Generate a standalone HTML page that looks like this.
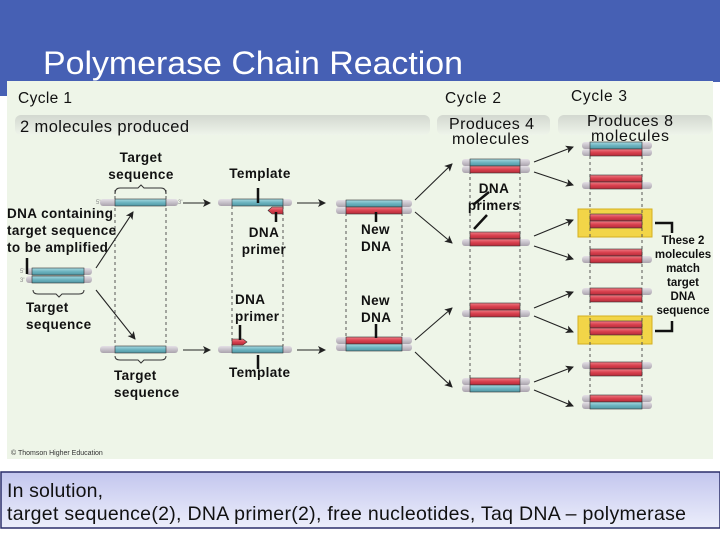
<!DOCTYPE html>
<html><head><meta charset="utf-8"><style>
body{margin:0;width:720px;height:540px;overflow:hidden;background:#fff;font-family:"Liberation Sans",Arial,sans-serif}
</style></head><body>
<svg width="720" height="540" viewBox="0 0 720 540" xmlns="http://www.w3.org/2000/svg" font-family="Liberation Sans, Arial, sans-serif">
<defs>
<linearGradient id="b" x1="0" y1="0" x2="0" y2="1"><stop offset="0" stop-color="#a9dbe2"/><stop offset="0.5" stop-color="#6db4c0"/><stop offset="1" stop-color="#4f97a4"/></linearGradient>
<linearGradient id="r" x1="0" y1="0" x2="0" y2="1"><stop offset="0" stop-color="#f07d86"/><stop offset="0.5" stop-color="#d8404e"/><stop offset="1" stop-color="#b52a38"/></linearGradient>
<linearGradient id="g" x1="0" y1="0" x2="0" y2="1"><stop offset="0" stop-color="#e4e0e6"/><stop offset="1" stop-color="#aaa3ad"/></linearGradient>
<linearGradient id="bar" x1="0" y1="0" x2="0" y2="1"><stop offset="0" stop-color="#d3d8d0"/><stop offset="1" stop-color="#eef4ea"/></linearGradient>
<linearGradient id="bot" x1="0" y1="0" x2="0" y2="1"><stop offset="0" stop-color="#c3c6ee"/><stop offset="1" stop-color="#eceefb"/></linearGradient>
<marker id="a" markerWidth="8" markerHeight="8" refX="7" refY="4" orient="auto" markerUnits="userSpaceOnUse"><path d="M0,0 L8,4 L0,8 L2,4z" fill="#222"/></marker>
</defs>
<rect width="720" height="82" fill="#4660b4"/>
<rect x="0" y="82" width="7" height="14" fill="#4660b4"/>
<text x="43" y="74" font-size="32" fill="#fff" textLength="420" lengthAdjust="spacingAndGlyphs">Polymerase Chain Reaction</text>
<rect x="7" y="81" width="706" height="378" fill="#eef5e8"/>
<rect x="15" y="115" width="415" height="20" rx="6" fill="url(#bar)"/>
<rect x="437" y="115" width="113" height="20" rx="6" fill="url(#bar)"/>
<rect x="558" y="115" width="154" height="20" rx="6" fill="url(#bar)"/>
<g font-size="15.5" fill="#111">
<text x="18" y="103" textLength="54">Cycle 1</text><text x="445" y="103" textLength="56">Cycle 2</text><text x="571" y="101" textLength="56">Cycle 3</text>
<text x="20" y="132" font-size="16.5" textLength="169">2 molecules produced</text>
<text x="449" y="129" font-size="16" textLength="85">Produces 4</text><text x="452" y="144" font-size="16" textLength="77">molecules</text>
<text x="587" y="126" font-size="16" textLength="86">Produces 8</text><text x="591" y="141" font-size="16" textLength="78">molecules</text>
</g>
<rect x="578" y="209" width="74" height="28" fill="#f2d548" stroke="#d4b020"/>
<rect x="578" y="316" width="74" height="28" fill="#f2d548" stroke="#d4b020"/>
<g stroke="#555" stroke-dasharray="3,3" stroke-width="1">
<path d="M115 190V350M166 190V350M232 206V346M283 206V346M346 213V337M402 213V337M470 171V385M520 171V385M590 150V400M642 150V400"/>
</g>
<g fill="url(#g)">
<rect x="26" y="268" width="66" height="7" rx="3"/><rect x="26" y="276" width="66" height="7" rx="3"/>
<rect x="100" y="199" width="78" height="7" rx="3"/><rect x="100" y="346" width="78" height="7" rx="3"/>
<rect x="218" y="199" width="74" height="7" rx="3"/><rect x="218" y="346" width="74" height="7" rx="3"/>
<rect x="336" y="200" width="76" height="7" rx="3"/><rect x="336" y="207" width="76" height="7" rx="3"/>
<rect x="336" y="337" width="76" height="7" rx="3"/><rect x="336" y="344" width="76" height="7" rx="3"/>
<rect x="462" y="159" width="68" height="7" rx="3"/><rect x="462" y="166" width="68" height="7" rx="3"/>
<rect x="462" y="239" width="68" height="7" rx="3"/><rect x="462" y="310" width="68" height="7" rx="3"/>
<rect x="462" y="378" width="68" height="7" rx="3"/><rect x="462" y="385" width="68" height="7" rx="3"/>
<rect x="582" y="142" width="70" height="7" rx="3"/><rect x="582" y="149" width="70" height="7" rx="3"/>
<rect x="582" y="182" width="70" height="7" rx="3"/><rect x="582" y="256" width="70" height="7" rx="3"/>
<rect x="582" y="288" width="70" height="7" rx="3"/><rect x="582" y="362" width="70" height="7" rx="3"/>
<rect x="582" y="395" width="70" height="7" rx="3"/><rect x="582" y="402" width="70" height="7" rx="3"/>
</g>
<g stroke="#333" stroke-width="0.6">
<rect x="32" y="268" width="52" height="7" fill="url(#b)"/><rect x="32" y="276" width="52" height="7" fill="url(#b)"/>
<rect x="115" y="199" width="51" height="7" fill="url(#b)"/><rect x="115" y="346" width="51" height="7" fill="url(#b)"/>
<rect x="232" y="199" width="51" height="7" fill="url(#b)"/><rect x="232" y="346" width="51" height="7" fill="url(#b)"/>
<path d="M283 207H272L268 210.5L272 214H283z" fill="url(#r)"/>
<path d="M232 339H243L247 342L243 345H232z" fill="url(#r)"/>
<rect x="346" y="200" width="56" height="7" fill="url(#b)"/><rect x="346" y="207" width="56" height="7" fill="url(#r)"/>
<rect x="346" y="337" width="56" height="7" fill="url(#r)"/><rect x="346" y="344" width="56" height="7" fill="url(#b)"/>
<rect x="470" y="159" width="50" height="7" fill="url(#b)"/><rect x="470" y="166" width="50" height="7" fill="url(#r)"/>
<rect x="470" y="232" width="50" height="7" fill="url(#r)"/><rect x="470" y="239" width="50" height="7" fill="url(#r)"/>
<rect x="470" y="303" width="50" height="7" fill="url(#r)"/><rect x="470" y="310" width="50" height="7" fill="url(#r)"/>
<rect x="470" y="378" width="50" height="7" fill="url(#r)"/><rect x="470" y="385" width="50" height="7" fill="url(#b)"/>
<rect x="590" y="142" width="52" height="7" fill="url(#b)"/><rect x="590" y="149" width="52" height="7" fill="url(#r)"/>
<rect x="590" y="175" width="52" height="7" fill="url(#r)"/><rect x="590" y="182" width="52" height="7" fill="url(#r)"/>
<rect x="590" y="214" width="52" height="7" fill="url(#r)"/><rect x="590" y="221" width="52" height="7" fill="url(#r)"/>
<rect x="590" y="249" width="52" height="7" fill="url(#r)"/><rect x="590" y="256" width="52" height="7" fill="url(#r)"/>
<rect x="590" y="288" width="52" height="7" fill="url(#r)"/><rect x="590" y="295" width="52" height="7" fill="url(#r)"/>
<rect x="590" y="321" width="52" height="7" fill="url(#r)"/><rect x="590" y="328" width="52" height="7" fill="url(#r)"/>
<rect x="590" y="362" width="52" height="7" fill="url(#r)"/><rect x="590" y="369" width="52" height="7" fill="url(#r)"/>
<rect x="590" y="395" width="52" height="7" fill="url(#r)"/><rect x="590" y="402" width="52" height="7" fill="url(#b)"/>
</g>
<g stroke="#222" stroke-width="1.1" fill="none" marker-end="url(#a)">
<path d="M96 268L133 212"/><path d="M96 290L135 339"/>
<path d="M183 203H210"/><path d="M183 350H210"/>
<path d="M297 203H325"/><path d="M297 350H325"/>
<path d="M415 200L452 164"/><path d="M415 212L452 243"/>
<path d="M415 340L452 308"/><path d="M415 352L452 387"/>
<path d="M534 162L573 147"/><path d="M534 172L573 185"/>
<path d="M534 236L573 220"/><path d="M534 246L573 259"/>
<path d="M534 308L573 292"/><path d="M534 316L573 332"/>
<path d="M534 382L573 367"/><path d="M534 390L573 406"/>
</g>
<g stroke="#111" stroke-width="2.5" fill="none">
<path d="M27 258V274M258 188V203M276 212V222M240 325V340M258 355V369M376 212V222M376 324V338"/>
<path d="M489 192L473 205M487 215L474 229"/>
<path d="M655 223H672V233M655 331H672V321"/>
</g>
<g stroke="#333" stroke-width="1" fill="none">
<path d="M115 194Q115 188 120 188H138L141 185L144 188H161Q166 188 166 194"/>
<path d="M33 290Q33 294 38 294H56L59 297L62 294H79Q84 294 84 290"/>
<path d="M115 356Q115 360 120 360H138L141 363L144 360H161Q166 360 166 356"/>
</g>
<g font-size="13.5" font-weight="bold" fill="#111" letter-spacing="0.4">
<text x="141" y="162" text-anchor="middle">Target</text><text x="141" y="179" text-anchor="middle">sequence</text>
<text x="260" y="178" text-anchor="middle">Template</text>
<text x="264" y="237" text-anchor="middle">DNA</text><text x="264" y="254" text-anchor="middle">primer</text>
<text x="7" y="218">DNA containing</text><text x="7" y="235">target sequence</text><text x="7" y="252">to be amplified</text>
<text x="26" y="312">Target</text><text x="26" y="329">sequence</text>
<text x="235" y="304">DNA</text><text x="235" y="321">primer</text>
<text x="114" y="380">Target</text><text x="114" y="397">sequence</text>
<text x="229" y="377">Template</text>
<text x="361" y="234">New</text><text x="361" y="251">DNA</text>
<text x="361" y="305">New</text><text x="361" y="322">DNA</text>
<text x="494" y="193" text-anchor="middle">DNA</text><text x="494" y="210" text-anchor="middle">primers</text>
</g>
<g font-size="11.5" font-weight="bold" fill="#111" text-anchor="middle">
<text x="683" y="244">These 2</text><text x="683" y="258">molecules</text><text x="683" y="272">match</text><text x="683" y="286">target</text><text x="683" y="300">DNA</text><text x="683" y="314">sequence</text>
</g>
<g font-size="6" fill="#888">
<text x="96" y="204">5'</text><text x="178" y="204">3'</text><text x="20" y="273">5'</text><text x="20" y="282">3'</text>
</g>
<text x="11" y="455" font-size="7" fill="#333">© Thomson Higher Education</text>
<rect x="1" y="472" width="719" height="56" fill="url(#bot)" stroke="#2b2f6a" stroke-width="1.5"/>
<text x="7" y="497" font-size="19.5" fill="#111" textLength="96">In solution,</text>
<text x="7" y="520" font-size="19.5" fill="#111" textLength="679">target sequence(2), DNA primer(2), free nucleotides, Taq DNA – polymerase</text>
</svg>
</body></html>
